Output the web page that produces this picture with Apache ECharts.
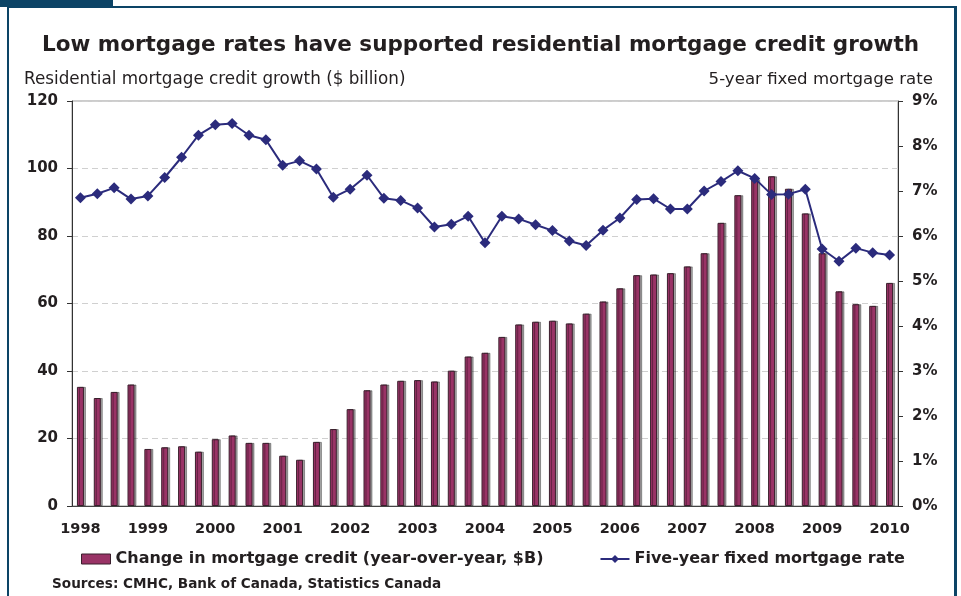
<!DOCTYPE html>
<html>
<head>
<meta charset="utf-8">
<script src="https://cdn.jsdelivr.net/npm/echarts@6/dist/echarts.min.js"></script>
<style>html,body{margin:0;padding:0;background:#fff;}#c{width:961px;height:596px;}</style>
</head>
<body>
<div id="c"></div>
<script>
const years = ['1998','1999','2000','2001','2002','2003','2004','2005','2006','2007','2008','2009','2010'];
const quarters = ['Q1','Q2','Q3','Q4'];
const categories = [];
years.forEach(function(y){ quarters.forEach(function(q){ if (categories.length < 49) categories.push(y + ' ' + q); }); });

const creditGrowth = [35.3, 32.0, 33.8, 36.0, 16.9, 17.4, 17.7, 16.1, 19.8, 20.9, 18.7, 18.7,
  14.9, 13.7, 19.0, 22.8, 28.7, 34.3, 36.0, 37.1, 37.3, 36.9, 40.1, 44.3,
  45.4, 50.1, 53.8, 54.6, 54.9, 54.1, 57.0, 60.6, 64.5, 68.4, 68.6, 69.0,
  71.0, 74.9, 83.9, 92.1, 96.8, 97.7, 94.0, 86.7, 74.9, 63.6, 59.8, 59.3, 66.1];

const mortgageRate = [6.85, 6.94, 7.07, 6.82, 6.89, 7.30, 7.75, 8.24, 8.47, 8.50, 8.24, 8.14,
  7.57, 7.67, 7.49, 6.86, 7.04, 7.35, 6.84, 6.79, 6.62, 6.20, 6.26, 6.44,
  5.85, 6.44, 6.38, 6.25, 6.12, 5.89, 5.79, 6.13, 6.40, 6.81, 6.83, 6.60,
  6.60, 7.00, 7.21, 7.45, 7.28, 6.92, 6.93, 7.04, 5.71, 5.44, 5.73, 5.63, 5.58];

const leftTicks = [0, 20, 40, 60, 80, 100, 120];
const rightTicks = [0, 1, 2, 3, 4, 5, 6, 7, 8, 9];

const FONT = 'DejaVu Sans';
const DARK = '#231f20';
const FRAME = '#0c4466';

const chart = echarts.init(document.getElementById('c'), null, {renderer: 'canvas'});
chart.setOption({
  animation: false,
  backgroundColor: '#fff',
  textStyle: {fontFamily: FONT},
  title: [
    {text: 'Low mortgage rates have supported residential mortgage credit growth', left: 'center', top: 29,
     textStyle: {fontFamily: FONT, fontSize: 21.5, fontWeight: 'bold', color: DARK}},
    {text: 'Residential mortgage credit growth ($ billion)', left: 19, top: 66,
     textStyle: {fontFamily: FONT, fontSize: 16.8, fontWeight: 'normal', color: DARK}},
    {text: '5-year fixed mortgage rate', right: 23, top: 66,
     textStyle: {fontFamily: FONT, fontSize: 16.6, fontWeight: 'normal', color: DARK}},
    {text: 'Sources: CMHC, Bank of Canada, Statistics Canada', left: 47, top: 572,
     textStyle: {fontFamily: FONT, fontSize: 13.6, fontWeight: 'bold', color: DARK}}
  ],
  legend: {
    left: 76, top: 546, itemGap: 56, itemWidth: 29, itemHeight: 10,
    textStyle: {fontFamily: FONT, fontSize: 16, fontWeight: 'bold', color: DARK},
    data: [
      {name: 'Change in mortgage credit (year-over-year, $B)', icon: 'rect',
       itemStyle: {color: '#993366', borderColor: '#3a1f2c', borderWidth: 1}},
      {name: 'Five-year fixed mortgage rate'}
    ]
  },
  grid: {left: 72, right: 63, top: 101, bottom: 90, show: true, borderColor: '#999', borderWidth: 1, containLabel: false},
  xAxis: {
    type: 'category', data: categories, boundaryGap: true,
    axisLine: {lineStyle: {color: '#444', width: 1}},
    axisTick: {interval: 3, length: 6, lineStyle: {color: '#333'}},
    axisLabel: {interval: 3, margin: 16, formatter: function(v){ return v.slice(0,4); },
      fontFamily: FONT, fontSize: 14.5, fontWeight: 'bold', color: DARK},
    splitLine: {show: false}
  },
  yAxis: [
    {type: 'value', min: leftTicks[0], max: leftTicks[leftTicks.length-1], interval: 20, position: 'left',
     axisLine: {show: true, lineStyle: {color: '#333'}},
     axisTick: {show: true, length: 5, lineStyle: {color: '#333'}},
     axisLabel: {margin: 14, fontFamily: FONT, fontSize: 15, fontWeight: 'bold', color: DARK},
     splitLine: {show: true, lineStyle: {color: '#d0d0d0', type: [6, 4], width: 1}}},
    {type: 'value', min: rightTicks[0], max: rightTicks[rightTicks.length-1], interval: 1, position: 'right',
     axisLine: {show: true, lineStyle: {color: '#333'}},
     axisTick: {show: true, length: 5, lineStyle: {color: '#333'}},
     axisLabel: {margin: 14, formatter: '{value}%', fontFamily: FONT, fontSize: 15, fontWeight: 'bold', color: DARK},
     splitLine: {show: false}}
  ],
  series: [
    {name: 'Change in mortgage credit (year-over-year, $B)', type: 'bar', yAxisIndex: 0, data: creditGrowth,
     barWidth: 7,
     itemStyle: {color: '#993366', borderColor: '#3a1f2c', borderWidth: 1,
       shadowColor: 'rgba(0,0,0,0.35)', shadowOffsetX: 2, shadowOffsetY: 0, shadowBlur: 0}},
    {name: 'Five-year fixed mortgage rate', type: 'line', yAxisIndex: 1, data: mortgageRate,
     symbol: 'diamond', symbolSize: 11, showAllSymbol: true,
     lineStyle: {color: '#2b2b7c', width: 2}, itemStyle: {color: '#2b2b7c'}, z: 5}
  ],
  graphic: [
    {type: 'rect', shape: {x: 0, y: 0, width: 113, height: 7}, style: {fill: FRAME}},
    {type: 'rect', shape: {x: 7, y: 6, width: 950, height: 2}, style: {fill: FRAME}},
    {type: 'rect', shape: {x: 7, y: 6, width: 2, height: 600}, style: {fill: FRAME}},
    {type: 'rect', shape: {x: 954, y: 6, width: 3, height: 600}, style: {fill: FRAME}}
  ]
});
</script>
</body>
</html>
